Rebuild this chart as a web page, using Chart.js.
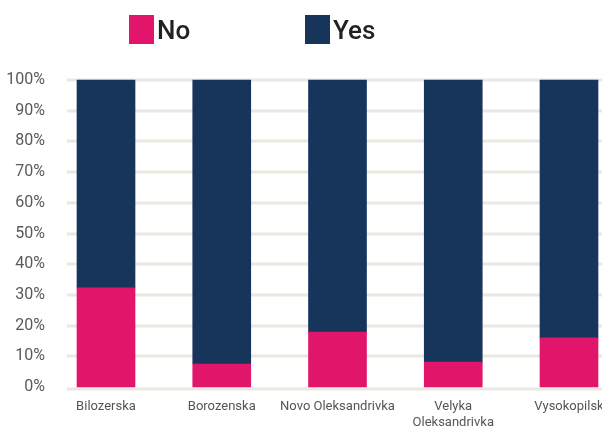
<!DOCTYPE html>
<html>
<head>
<meta charset="utf-8">
<script src="https://cdn.jsdelivr.net/npm/chart.js@4.4.0/dist/chart.umd.min.js"></script>
<style>
  html, body { margin: 0; padding: 0; background: #fff; overflow: hidden; }
  #wrap { width: 602px; height: 429px; }
</style>
</head>
<body>
<div id="wrap"><canvas id="chart" width="602" height="429"></canvas></div>
<script>
// Survey answers per community, share of respondents in %
const communities = ['Bilozerska', 'Borozenska', 'Novo Oleksandrivka', ['Velyka', 'Oleksandrivka'], 'Vysokopilsk'];
const noShare = [32.3, 7.5, 17.9, 8.1, 16.0];
const yesShare = [67.7, 92.5, 82.1, 91.9, 84.0];
const percentTicks = [0, 10, 20, 30, 40, 50, 60, 70, 80, 90, 100];

const PINK = '#E1166A';
const NAVY = '#17355B';
const GRID = '#EBE7E1';

// horizontal guide lines run wider than the plot area
const wideGrid = {
  id: 'wideGrid',
  beforeDatasetsDraw(chart) {
    const ctx = chart.ctx;
    const y = chart.scales.y;
    ctx.save();
    ctx.strokeStyle = GRID;
    ctx.lineWidth = 3;
    percentTicks.forEach(v => {
      let py = Math.round(y.getPixelForValue(v));
      if (v === 0) py += 2;
      ctx.beginPath();
      ctx.moveTo(67, py);
      ctx.lineTo(chart.width, py);
      ctx.stroke();
    });
    ctx.restore();
  }
};

// legend: square swatch + label, placed at fixed x positions
const legendSpots = [129, 305];
const topLegend = {
  id: 'topLegend',
  afterDraw(chart) {
    const ctx = chart.ctx;
    ctx.save();
    ctx.font = '500 26px Roboto';
    ctx.textBaseline = 'alphabetic';
    chart.data.datasets.forEach((ds, i) => {
      const x = legendSpots[i];
      ctx.fillStyle = ds.backgroundColor;
      ctx.fillRect(x, 15, 25, 29);
      ctx.fillStyle = '#222';
      ctx.fillText(ds.label, x + 28, 39);
    });
    ctx.restore();
  }
};

new Chart(document.getElementById('chart'), {
  type: 'bar',
  data: {
    labels: communities,
    datasets: [
      { label: 'No', data: noShare, backgroundColor: PINK, barThickness: 58, clip: false },
      { label: 'Yes', data: yesShare, backgroundColor: NAVY, barThickness: 58, clip: false }
    ]
  },
  options: {
    responsive: false,
    animation: false,
    layout: { padding: { top: 80, right: 33, bottom: 0, left: 0 } },
    plugins: {
      legend: { display: false },
      tooltip: { enabled: false }
    },
    scales: {
      x: {
        stacked: true,
        offset: false,
        afterFit(scale) {
          scale.height = 42;
          scale.paddingLeft = 0;
          scale.paddingRight = 0;
        },
        grid: { display: false, drawTicks: false },
        border: { display: false },
        ticks: {
          color: '#555',
          padding: 12,
          maxRotation: 0,
          autoSkip: false,
          font: { family: 'Roboto', size: 13 }
        }
      },
      y: {
        stacked: true,
        min: 0,
        max: 100,
        afterFit(scale) {
          scale.width = 106;
          scale.paddingTop = 0;
          scale.paddingBottom = 0;
        },
        afterBuildTicks(scale) { scale.ticks = percentTicks.map(v => ({ value: v })); },
        grid: { display: false, drawTicks: false },
        border: { display: false },
        ticks: {
          color: '#595959',
          padding: 61,
          font: { family: 'Roboto', size: 16 },
          callback: v => v + '%'
        }
      }
    }
  },
  plugins: [wideGrid, topLegend]
});
</script>
</body>
</html>
